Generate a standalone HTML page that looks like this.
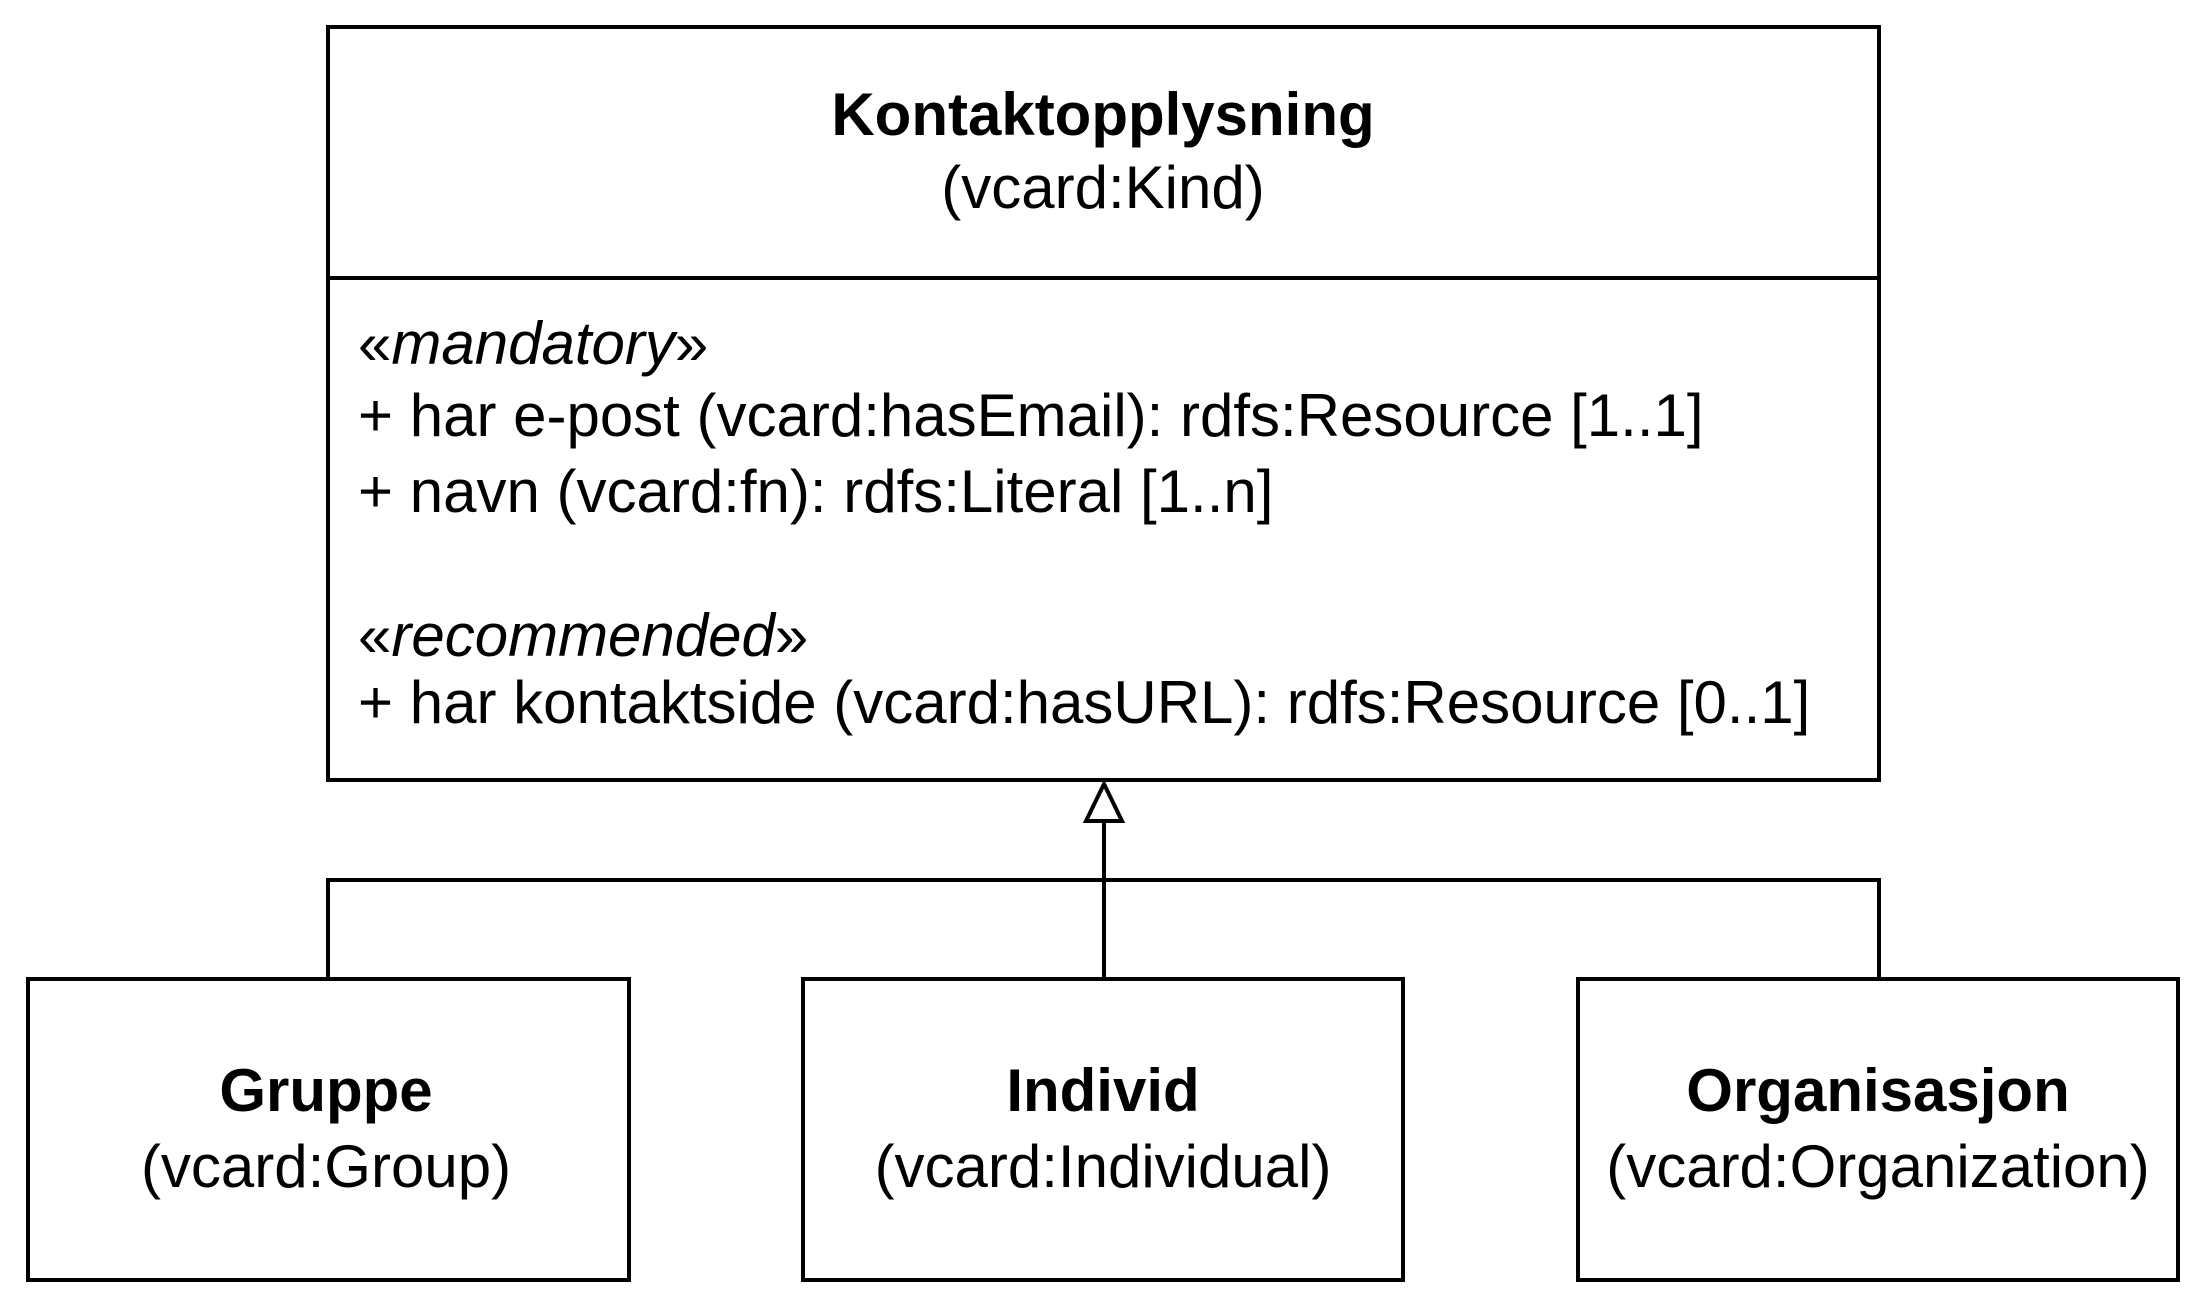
<!DOCTYPE html>
<html><head><meta charset="utf-8"><style>
html,body{margin:0;padding:0;background:#fff;}
svg{display:block;}
text{font-family:"Liberation Sans",Arial,sans-serif;fill:#000;}
</style></head><body>
<svg width="2205" height="1305" viewBox="0 0 2205 1305" xmlns="http://www.w3.org/2000/svg">
<g fill="none" stroke="#000" stroke-width="4">
<rect x="328" y="27" width="1551" height="753"/>
<line x1="328" y1="278" x2="1879" y2="278"/>
<rect x="28" y="979" width="601" height="301"/>
<rect x="803" y="979" width="600" height="301"/>
<rect x="1578" y="979" width="600" height="301"/>
<polyline points="328,979 328,880 1879,880 1879,979"/>
<line x1="1104" y1="821" x2="1104" y2="979"/>
<polygon points="1104,784 1086,821 1122,821" fill="#fff"/>
</g>
<g font-size="60">
<text x="1103" y="135" text-anchor="middle" font-weight="bold">Kontaktopplysning</text>
<text x="1103" y="208" text-anchor="middle">(vcard:Kind)</text>
<text x="358" y="364">«<tspan font-style="italic">mandatory</tspan>»</text>
<text x="358" y="436">+ har e-post (vcard:hasEmail): rdfs:Resource [1..1]</text>
<text x="358" y="512">+ navn (vcard:fn): rdfs:Literal [1..n]</text>
<text x="358" y="656">«<tspan font-style="italic">recommended</tspan>»</text>
<text x="358" y="723">+ har kontaktside (vcard:hasURL): rdfs:Resource [0..1]</text>
<text x="326" y="1111" text-anchor="middle" font-weight="bold">Gruppe</text>
<text x="326" y="1187" text-anchor="middle">(vcard:Group)</text>
<text x="1103" y="1111" text-anchor="middle" font-weight="bold">Individ</text>
<text x="1103" y="1187" text-anchor="middle">(vcard:Individual)</text>
<text x="1878" y="1111" text-anchor="middle" font-weight="bold">Organisasjon</text>
<text x="1878" y="1187" text-anchor="middle">(vcard:Organization)</text>
</g>
</svg>
</body></html>
